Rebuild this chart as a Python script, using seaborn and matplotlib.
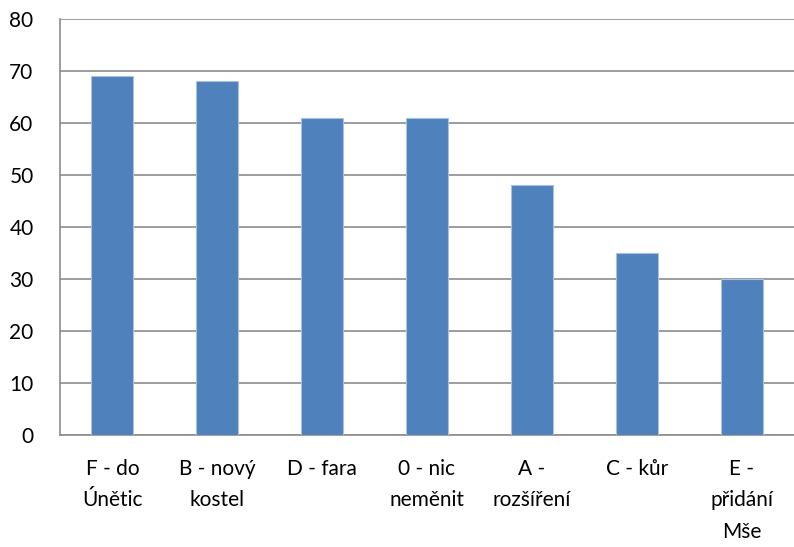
import matplotlib
matplotlib.use("Agg")
import matplotlib.pyplot as plt
import seaborn as sns
import pandas as pd

categories = ["F - do\nÚnětic", "B - nový\nkostel", "D - fara", "0 - nic\nneměnit",
              "A -\nrozšíření", "C - kůr", "E -\npřidání\nMše"]
values = [69, 68, 61, 61, 48, 35, 30]
y_ticks = [0, 10, 20, 30, 40, 50, 60, 70, 80]

df = pd.DataFrame({"volba": categories, "hlasy": values})

sns.set_style("white")
plt.rcParams["font.family"] = ["Lato", "DejaVu Sans"]

fig = plt.figure(figsize=(7.94, 5.47), dpi=100)
ax = fig.add_axes([60 / 794, 1 - 435 / 547, 734 / 794, 416 / 547])

sns.barplot(data=df, x="volba", y="hlasy", color="#4F81BD", width=0.4,
            saturation=1, edgecolor="#A9C1DF", linewidth=0.8, ax=ax, zorder=3)

grid = "#8C8C8C"
ax.set_ylim(0, 80)
ax.set_xlim(-0.5, len(categories) - 0.5)
ax.set_yticks(y_ticks)
ax.yaxis.grid(True, color=grid, linewidth=1.2, zorder=0)
ax.set_axisbelow(True)

# category ticks between the bars, labels centred under them
ax.set_xticks(range(len(categories)))
ax.set_xticklabels(categories, linespacing=1.72)
ax.set_xticks([i - 0.5 for i in range(len(categories) + 1)], minor=True)
ax.tick_params(axis="x", which="major", length=0, pad=17, labelsize=15, colors="black")
ax.tick_params(axis="x", which="minor", length=8, width=1.2, color=grid, direction="out")
ax.tick_params(axis="y", length=8, width=1.2, color=grid, pad=11, labelsize=15,
               labelcolor="black", direction="out")

for s in ["top", "right"]:
    ax.spines[s].set_visible(False)
for s in ["left", "bottom"]:
    ax.spines[s].set_color(grid)
    ax.spines[s].set_linewidth(1.2)

ax.set_xlabel("")
ax.set_ylabel("")

fig.savefig("out.png", dpi=100)
